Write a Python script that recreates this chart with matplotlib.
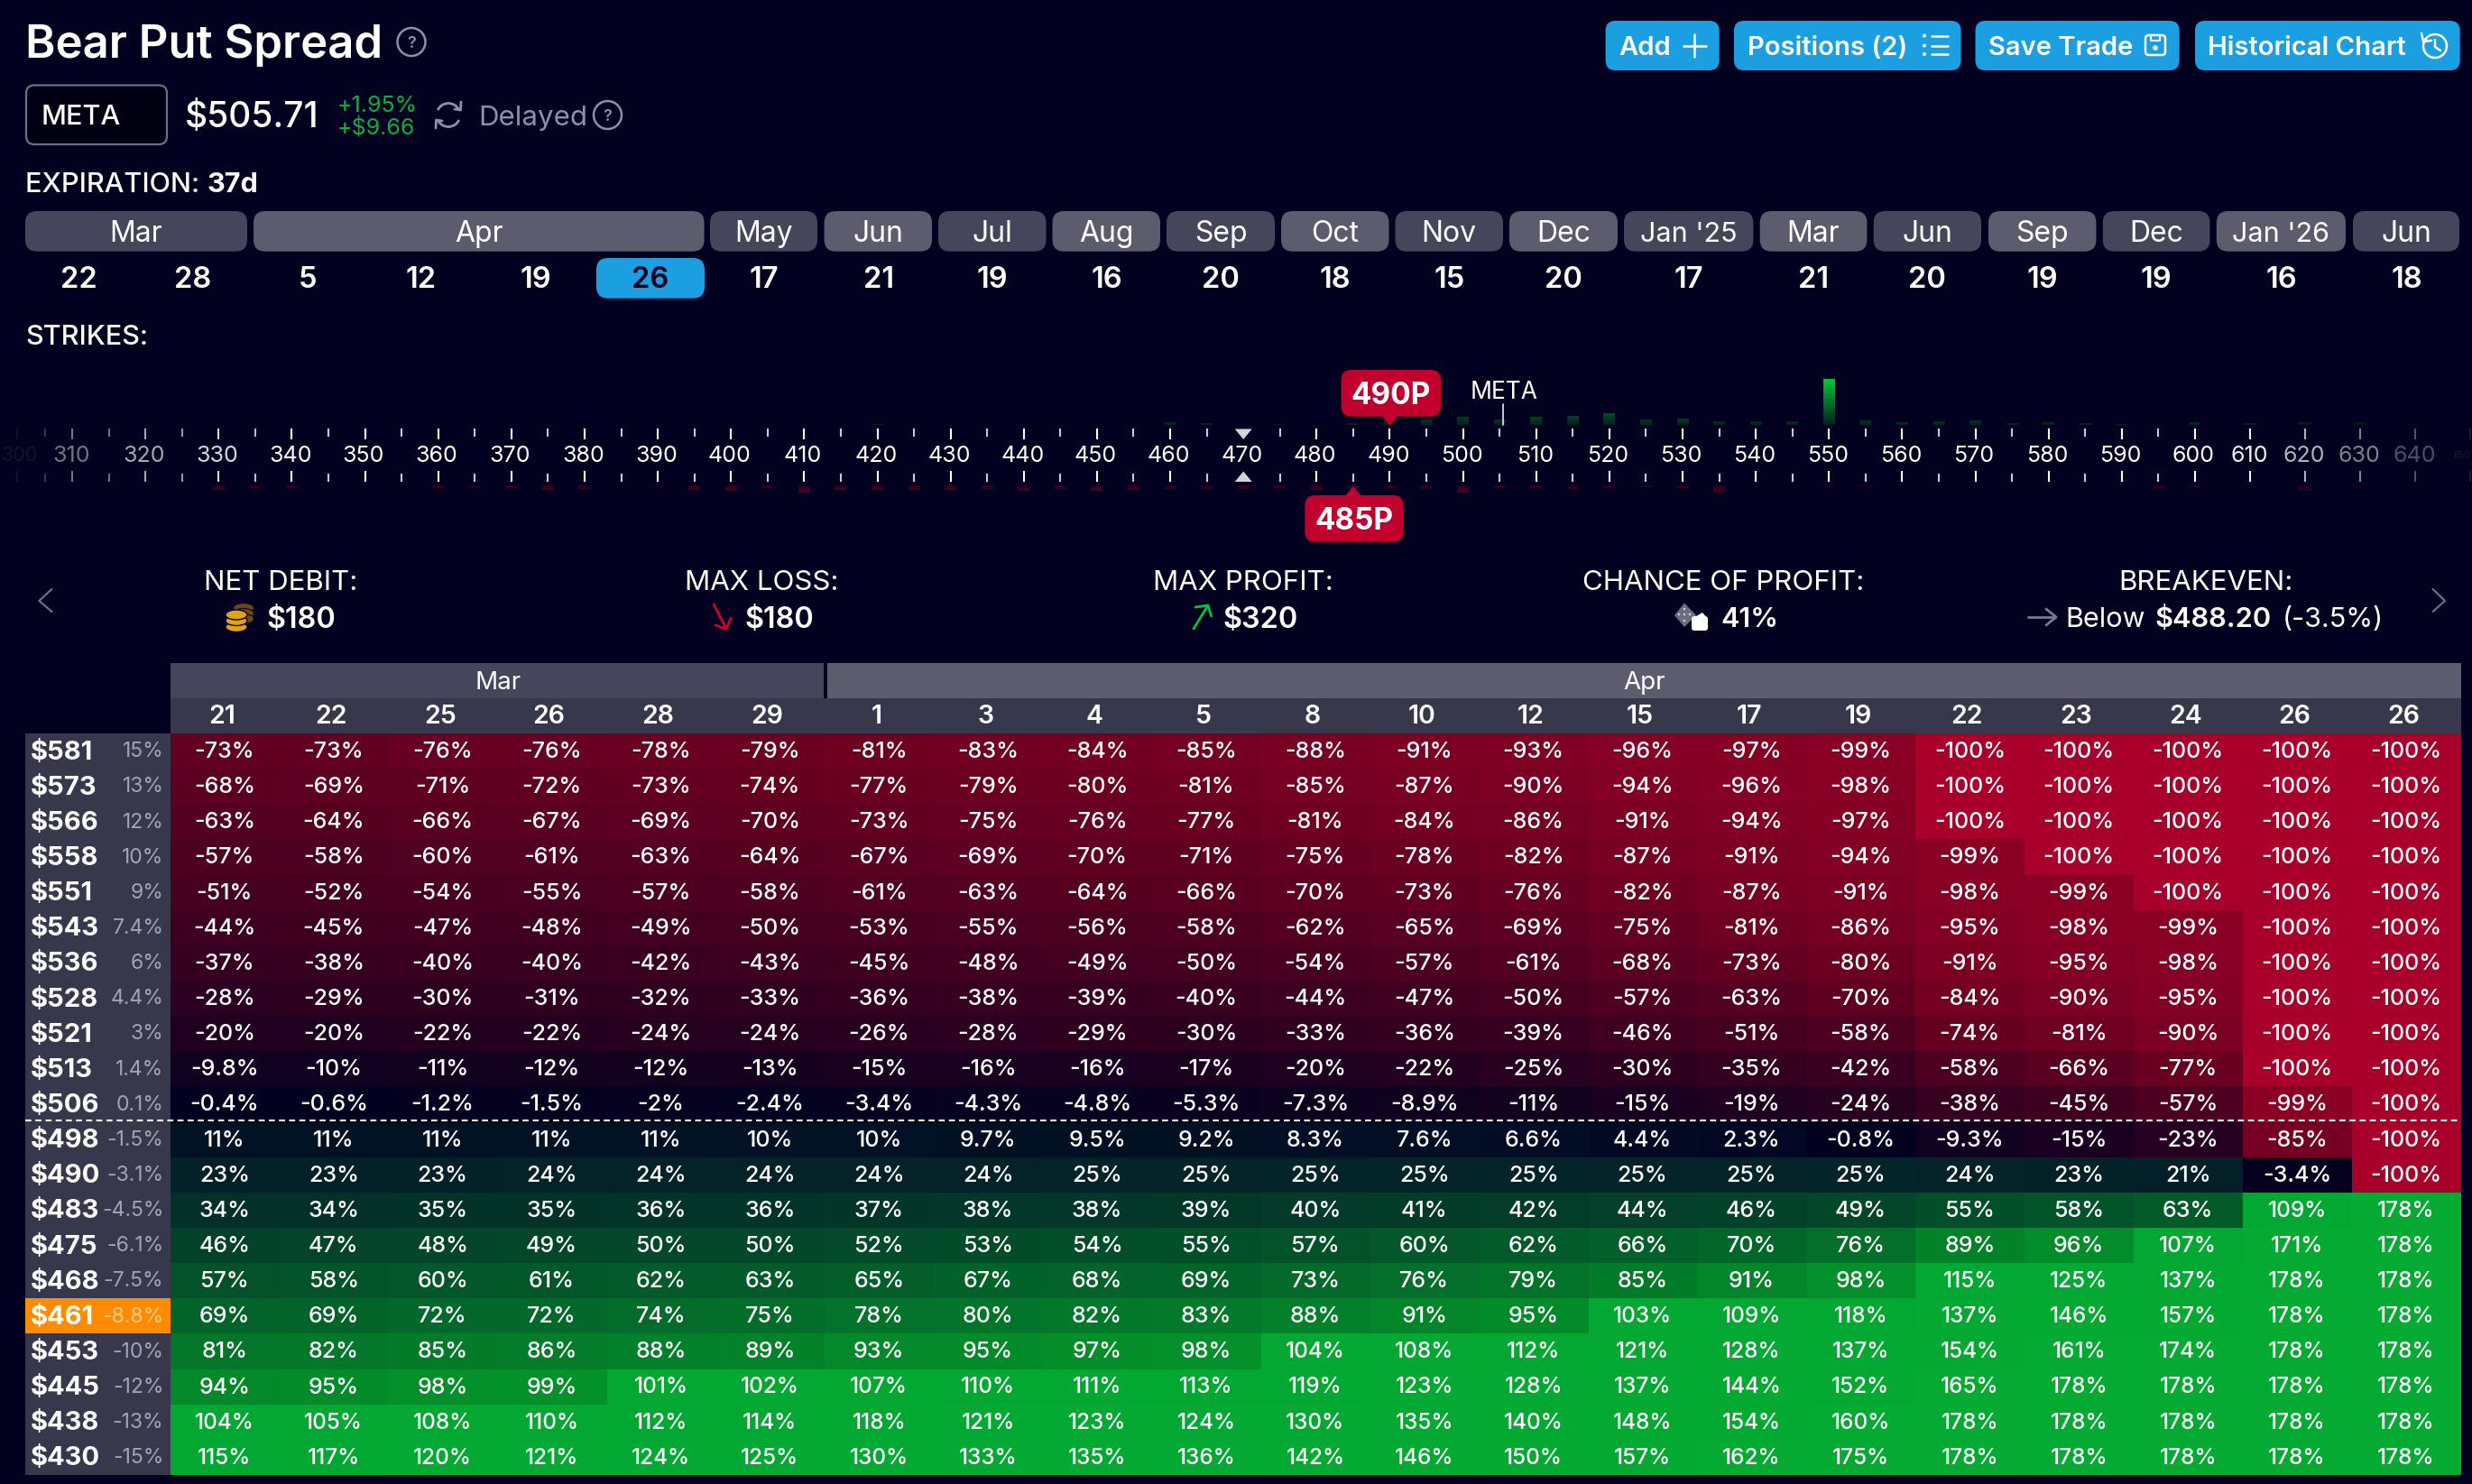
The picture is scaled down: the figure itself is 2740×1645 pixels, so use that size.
import numpy as np
import matplotlib
matplotlib.use("Agg")
import matplotlib.pyplot as plt
from matplotlib.patches import FancyBboxPatch, Rectangle, Polygon, Circle, Arc, Ellipse
from matplotlib.colors import LinearSegmentedColormap, Normalize

plt.rcParams['font.family'] = ['Inter', 'DejaVu Sans']

# ---------- data ----------
days = [21, 22, 25, 26, 28, 29, 1, 3, 4, 5, 8, 10, 12, 15, 17, 19, 22, 23, 24, 26, 26]
mar_columns = 6
prices = [581, 573, 566, 558, 551, 543, 536, 528, 521, 513, 506,
          498, 490, 483, 475, 468, 461, 453, 445, 438, 430]
price_pct = ['15%', '13%', '12%', '10%', '9%', '7.4%', '6%', '4.4%', '3%', '1.4%', '0.1%',
             '-1.5%', '-3.1%', '-4.5%', '-6.1%', '-7.5%', '-8.8%', '-10%', '-12%', '-13%', '-15%']
r581 = [-73, -73, -76, -76, -78, -79, -81, -83, -84, -85, -88, -91, -93, -96, -97, -99, -100, -100, -100, -100, -100]
r573 = [-68, -69, -71, -72, -73, -74, -77, -79, -80, -81, -85, -87, -90, -94, -96, -98, -100, -100, -100, -100, -100]
r566 = [-63, -64, -66, -67, -69, -70, -73, -75, -76, -77, -81, -84, -86, -91, -94, -97, -100, -100, -100, -100, -100]
r558 = [-57, -58, -60, -61, -63, -64, -67, -69, -70, -71, -75, -78, -82, -87, -91, -94, -99, -100, -100, -100, -100]
r551 = [-51, -52, -54, -55, -57, -58, -61, -63, -64, -66, -70, -73, -76, -82, -87, -91, -98, -99, -100, -100, -100]
r543 = [-44, -45, -47, -48, -49, -50, -53, -55, -56, -58, -62, -65, -69, -75, -81, -86, -95, -98, -99, -100, -100]
r536 = [-37, -38, -40, -40, -42, -43, -45, -48, -49, -50, -54, -57, -61, -68, -73, -80, -91, -95, -98, -100, -100]
r528 = [-28, -29, -30, -31, -32, -33, -36, -38, -39, -40, -44, -47, -50, -57, -63, -70, -84, -90, -95, -100, -100]
r521 = [-20, -20, -22, -22, -24, -24, -26, -28, -29, -30, -33, -36, -39, -46, -51, -58, -74, -81, -90, -100, -100]
r513 = [-9.8, -10, -11, -12, -12, -13, -15, -16, -16, -17, -20, -22, -25, -30, -35, -42, -58, -66, -77, -100, -100]
r506 = [-0.4, -0.6, -1.2, -1.5, -2, -2.4, -3.4, -4.3, -4.8, -5.3, -7.3, -8.9, -11, -15, -19, -24, -38, -45, -57, -99, -100]
r498 = [11, 11, 11, 11, 11, 10, 10, 9.7, 9.5, 9.2, 8.3, 7.6, 6.6, 4.4, 2.3, -0.8, -9.3, -15, -23, -85, -100]
r490 = [23, 23, 23, 24, 24, 24, 24, 24, 25, 25, 25, 25, 25, 25, 25, 25, 24, 23, 21, -3.4, -100]
r483 = [34, 34, 35, 35, 36, 36, 37, 38, 38, 39, 40, 41, 42, 44, 46, 49, 55, 58, 63, 109, 178]
r475 = [46, 47, 48, 49, 50, 50, 52, 53, 54, 55, 57, 60, 62, 66, 70, 76, 89, 96, 107, 171, 178]
r468 = [57, 58, 60, 61, 62, 63, 65, 67, 68, 69, 73, 76, 79, 85, 91, 98, 115, 125, 137, 178, 178]
r461 = [69, 69, 72, 72, 74, 75, 78, 80, 82, 83, 88, 91, 95, 103, 109, 118, 137, 146, 157, 178, 178]
r453 = [81, 82, 85, 86, 88, 89, 93, 95, 97, 98, 104, 108, 112, 121, 128, 137, 154, 161, 174, 178, 178]
r445 = [94, 95, 98, 99, 101, 102, 107, 110, 111, 113, 119, 123, 128, 137, 144, 152, 165, 178, 178, 178, 178]
r438 = [104, 105, 108, 110, 112, 114, 118, 121, 123, 124, 130, 135, 140, 148, 154, 160, 178, 178, 178, 178, 178]
r430 = [115, 117, 120, 121, 124, 125, 130, 133, 135, 136, 142, 146, 150, 157, 162, 175, 178, 178, 178, 178, 178]
returns = [r581, r573, r566, r558, r551, r543, r536, r528, r521, r513, r506,
           r498, r490, r483, r475, r468, r461, r453, r445, r438, r430]

exp_months = ['Mar', 'Apr', 'May', 'Jun', 'Jul', 'Aug', 'Sep', 'Oct', 'Nov', 'Dec',
              "Jan '25", 'Mar', 'Jun', 'Sep', 'Dec', "Jan '26", 'Jun']
exp_days = [22, 28, 5, 12, 19, 26, 17, 21, 19, 16, 20, 18, 15, 20, 17, 21, 20, 19, 19, 16, 18]

strikes = list(range(300, 605, 5)) + [610, 620, 630, 640, 650]
call_strikes = [420, 460, 465, 475, 485, 490, 495, 500, 505, 510, 515, 520, 525, 530, 535, 540, 545,
                550, 555, 560, 565, 570, 575, 580, 585, 590, 600, 610, 620, 630, 640]
call_oi = [1, 3, 2.5, 1, 2.5, 6, 6, 9.5, 6, 9.5, 10.5, 13.5, 6, 7.5, 4.3, 3.7, 3.7,
           51.5, 4.7, 3.3, 4.3, 5.3, 1.7, 2.7, 2, 1.3, 3.3, 2.3, 2.7, 3, 1]
put_strikes = [330, 335, 340, 360, 365, 370, 375, 380, 390, 395, 400, 405, 410, 415, 420, 425, 430, 435, 440,
               445, 450, 455, 460, 465, 470, 475, 480, 485, 490, 495, 500, 505, 510, 515, 520, 525, 530, 535,
               550, 555, 595, 600, 620, 630]
put_oi = [4.7, 3, 2.7, 2.7, 1.7, 3.3, 5.3, 3.7, 1.3, 4.7, 6, 3.3, 7.7, 4.7, 4.7, 5, 5.3, 4.3, 6.3,
          3.7, 5.7, 4.7, 4.3, 4.3, 4.3, 2.7, 5, 4.3, 3.3, 4, 8, 3.3, 3, 3.7, 3, 1.7, 3.3, 7.3,
          1.3, 1.3, 3.3, 1.7, 6, 1]
fade_strikes = [300, 310, 320, 330, 340, 600, 610, 620, 630, 640, 650]
fade_alpha = [0.07, 0.45, 0.65, 0.85, 1, 1, 0.95, 0.7, 0.5, 0.3, 0.1]

# ---------- palette ----------
BG = '#02011f'
BLUE = '#1b9fe0'
PILL_D = '#45465c'
PILL_L = '#5c5c6e'
HEAD = '#37384c'
GREY = '#8a92aa'
RED = '#c1002e'
GREEN = '#04b43a'
W = 2740
H = 1645

fig = plt.figure(figsize=(27.4, 16.45), dpi=100, facecolor=BG)
ui = fig.add_axes([0, 0, 1, 1], zorder=5)
ui.set_xlim(0, W)
ui.set_ylim(H, 0)
ui.axis('off')


def axes_px(x0, y0, x1, y1, z):
    a = fig.add_axes([x0 / W, 1 - y1 / H, (x1 - x0) / W, (y1 - y0) / H], zorder=z)
    a.patch.set_alpha(0)
    return a


def T(x, yc, s, size, color='white', ha='left', weight=400, alpha=None, ax=None):
    px = size * 100 / 72
    return (ax or ui).text(x, yc + 0.3636 * px, s, fontsize=size, color=color, ha=ha, va='baseline',
                           fontweight=weight, alpha=alpha, zorder=6)


def box(x0, y0, x1, y1, color, r=10, ec='none', lw=0, z=2):
    p = FancyBboxPatch((x0, y0), x1 - x0, y1 - y0, boxstyle=f'round,pad=0,rounding_size={r}',
                       fc=color, ec=ec, lw=lw, zorder=z)
    ui.add_patch(p)
    return p


def L(xs, ys, color='white', lw=1.6, z=5):
    ui.plot(xs, ys, color=color, lw=lw, zorder=z, solid_capstyle='round', solid_joinstyle='round')


def help_icon(x, y, r=15.5):
    ui.add_patch(Circle((x, y), r, fc='none', ec=GREY, lw=1.8, zorder=5))
    T(x, y, '?', 13, GREY, ha='center', weight=600)


# ---------- header ----------
T(28, 46, 'Bear Put Spread', 36.6, weight=600)
help_icon(456, 46.5)

btn_y = (23, 78)
buttons = [('Add', 1779.6, 1905.6, 1794), ('Positions (2)', 1922, 2173.6, 1937),
           ('Save Trade', 2189.5, 2415.7, 2204), ('Historical Chart', 2433, 2726.7, 2447.5)]
for label, x0, x1, tx in buttons:
    box(x0, btn_y[0], x1, btn_y[1], BLUE, r=11)
    T(tx, 50.5, label, 21, weight=600)
# plus
L([1866, 1891], [50.5, 50.5], lw=1.8)
L([1878.5, 1878.5], [38, 63], lw=1.8)
# list icon
for yy in (39.5, 50.5, 60):
    ui.add_patch(Circle((2133, yy), 2, fc='white', ec='none', zorder=5))
    L([2141, 2159], [yy, yy], lw=1.8)
# floppy
ui.add_patch(FancyBboxPatch((2378, 39), 22, 22, boxstyle='round,pad=0,rounding_size=4', fc='none', ec='white',
                            lw=1.8, zorder=5))
L([2384, 2384, 2394, 2394], [39, 45, 45, 39], lw=1.5)
ui.add_patch(Circle((2389, 53), 2.8, fc='white', ec='none', zorder=5))
# history
ui.add_patch(Arc((2699, 51), 26, 26, theta1=-250, theta2=110, ec='white', lw=1.8, zorder=5))
L([2684, 2686, 2695], [37, 46, 45], lw=1.8)
L([2699, 2699, 2705], [44, 52, 56], lw=1.8)

box(29, 94.5, 185, 160, '#010012', r=9, ec='#6b7086', lw=1.6)
T(46, 127, 'META', 22, weight=500)
T(205, 127, '$505.71', 28, weight=500)
T(374, 115, '+1.95%', 18, GREEN)
T(374, 140.5, '+$9.66', 18, GREEN)
ui.add_patch(Arc((497, 127.5), 26, 26, theta1=205, theta2=335, ec=GREY, lw=2, zorder=5))
ui.add_patch(Arc((497, 127.5), 26, 26, theta1=25, theta2=155, ec=GREY, lw=2, zorder=5))
L([511, 510.5, 504], [113, 122, 121], GREY, 2)
L([483, 483.5, 490], [142, 133, 134], GREY, 2)
T(530, 127.5, 'Delayed', 22.5, GREY)
help_icon(673.5, 127.5)

T(28, 202, 'EXPIRATION: ', 22, weight=500)
T(229.5, 202, '37d', 22, weight=700)

# ---------- expiration strip ----------
month_spans = [(28, 274), (281, 780.6), (787, 906), (913.6, 1033), (1040, 1159.5), (1166.5, 1286), (1293, 1413),
               (1420, 1539.5), (1546.5, 1666), (1673, 1793), (1800, 1943.4), (1950.7, 2069.4), (2076.7, 2196),
               (2204, 2323.5), (2330.8, 2449.5), (2456.8, 2600), (2608, 2726)]
for i, (m, (x0, x1)) in enumerate(zip(exp_months, month_spans)):
    box(x0, 234, x1, 278.7, PILL_L if i % 2 else PILL_D, r=13)
    T((x0 + x1) / 2, 256.5, m, 23 if "'" not in m else 22, ha='center', weight=400)
day_cx = [87, 214, 341, 467, 594, 720.6, 846.5, 974, 1100, 1227, 1353, 1480, 1606.5, 1733, 1871.7, 2010, 2136.3,
          2263.7, 2390, 2528.5, 2667.5]
box(661, 286, 781, 330.7, BLUE, r=13)
for d, x in zip(exp_days, day_cx):
    T(x, 307.5, str(d), 23.5, '#02011f' if x == 720.6 else 'white', ha='center', weight=600)
T(28, 371, 'STRIKES:', 22, weight=500)

# ---------- strike rail ----------
anchor_strike = [250, 310, 600, 700]
anchor_px = [-286, 80, 2433, 3043]


def fwd(v):
    return np.interp(v, anchor_strike, anchor_px)


def inv(p):
    return np.interp(p, anchor_px, anchor_strike)


def fade(s):
    return float(np.interp(s, fade_strikes, fade_alpha))


def rail_axes(y0, y1, z=3):
    a = axes_px(0, y0, W, y1, z)
    a.set_xscale('function', functions=(fwd, inv))
    a.set_xlim(inv(0), inv(W))
    return a


rail = rail_axes(475, 534)
rail.set_ylim(0, 1)
for s in rail.spines.values():
    s.set_visible(False)
rail.set_yticks([])
major = [s for s in strikes if (s % 10 == 0) and s != 470]
minor = [s for s in strikes if s % 10 != 0]
rail.set_xticks(major)
rail.set_xticks(minor, minor=True)
rail.set_xticklabels([])
rail.tick_params(axis='x', which='major', direction='in', top=True, bottom=True, length=8.6, width=1.5,
                 color='white', labelbottom=False)
rail.tick_params(axis='x', which='minor', direction='in', top=True, bottom=True, length=6.5, width=1.5,
                 color='#c9cad2', labelbottom=False)
for tick, s in zip(rail.xaxis.get_major_ticks(), major):
    tick.tick1line.set_alpha(fade(s))
    tick.tick2line.set_alpha(fade(s))
for tick, s in zip(rail.xaxis.get_minor_ticks(), minor):
    tick.tick1line.set_alpha(fade(s))
    tick.tick2line.set_alpha(fade(s))
for s in strikes:
    if s % 10 == 0:
        if s == strikes[0]:
            # the rail's faded ends: kept inside the canvas
            rail.text(inv(2), 0.49, str(s), color='white', alpha=fade(s), fontsize=15.5, ha='left', va='center')
        elif s == strikes[-1]:
            rail.text(inv(2738), 0.49, str(s), color='white', alpha=fade(s), fontsize=7, ha='right', va='center')
        else:
            rail.text(s - 0.2, 0.49, str(s), color='white', alpha=fade(s), fontsize=18, ha='center', va='center')

cx470 = float(fwd(470))
ui.add_patch(Polygon([(cx470 - 9.5, 475.5), (cx470 + 9.5, 475.5), (cx470, 487)], fc='#d4d5dc', ec='none', zorder=5))
ui.add_patch(Polygon([(cx470 - 9.5, 534), (cx470 + 9.5, 534), (cx470, 522.5)], fc='#d4d5dc', ec='none', zorder=5))


def lerp(c0, c1, t):
    t = min(max(t, 0), 1)
    return tuple((a + (b - a) * t) / 255 for a, b in zip(c0, c1))


def gradient_bars(a, xs, hs, c0, c1, span):
    xs = np.array(xs, float)
    hs = np.array(hs, float)
    widths = np.where(xs > 600, 2.2, 1.6)
    alphas = np.array([fade(s) for s in xs])
    for lev in np.arange(0, hs.max(), 1.0):
        part = np.clip(hs - lev, 0, 1)
        keep = part > 0
        a.bar(xs[keep], part[keep], bottom=lev, width=widths[keep], color=lerp(c0, c1, (lev + 0.5) / span),
              linewidth=0, antialiased=False)
    for x, h, w, al in zip(xs, hs, widths, alphas):
        if al < 1:
            a.bar([x], [h], bottom=0, width=w, color=BG, alpha=1 - al, linewidth=0)


calls = rail_axes(415, 471)
calls.set_ylim(0, 56)
calls.axis('off')
gradient_bars(calls, call_strikes, call_oi, (2, 32, 30), (0, 205, 52), 52)
puts = rail_axes(538, 570)
puts.set_ylim(32, 0)
puts.axis('off')
gradient_bars(puts, put_strikes, put_oi, (38, 0, 30), (88, 0, 36), 9)


def tag(x0, x1, y0, y1, tip, label):
    box(x0, y0, x1, y1, RED, r=11, z=7)
    cx = float(fwd(tip[0]))
    base = y1 - 1 if tip[1] > y1 else y0 + 1
    ui.add_patch(Polygon([(cx - 9, base), (cx + 9, base), (cx, tip[1])], fc=RED, ec='none', zorder=7))
    t_ = T((x0 + x1) / 2, (y0 + y1) / 2, label, 24, ha='center', weight=700)
    t_.set_zorder(8)


tag(1486.6, 1597, 410, 461.7, (490, 472), '490P')
tag(1446.4, 1555.5, 549, 600.7, (485, 539), '485P')
T(1667.5, 432, 'META', 19, ha='center')
L([1666.5, 1666.5], [448, 471], '#d8d8de', 1.3)

# ---------- summary ----------
for x, s in [(311.5, 'NET DEBIT:'), (844, 'MAX LOSS:'), (1378, 'MAX PROFIT:'), (1910, 'CHANCE OF PROFIT:'),
             (2444.5, 'BREAKEVEN:')]:
    T(x, 643, s, 22.5, ha='center')
T(295, 684, '$180', 23.3, weight=600)
T(825, 684, '$180', 23.3, weight=600)
T(1355, 684, '$320', 23.3, weight=600)
T(1907, 684, '41%', 22, weight=600)
T(2289.5, 684, 'Below', 22)
T(2388.5, 684, '$488.20', 22.2, weight=600)
T(2529.5, 684, '(-3.5%)', 22)

L([57.4, 43.4, 57.4], [653, 666, 678], '#6b6f80', 1.6)
L([2696.6, 2710, 2696.6], [653, 666, 678], '#6b6f80', 1.6)
# coins
for yy in (674, 680, 686):
    ui.add_patch(Ellipse((270, yy), 23, 11, fc='#6b4a12', ec=BG, lw=0.8, zorder=4))
for yy in (695, 688, 681.5):
    ui.add_patch(Ellipse((262, yy), 24, 11, fc='#e3a213', ec=BG, lw=1.0, zorder=5))
# arrows
L([791, 805], [670, 697], '#d0002e', 2)
L([793, 805, 810], [693, 697, 685], '#d0002e', 2)
L([1323, 1339], [697, 671], '#04c23e', 2)
L([1325, 1339, 1342.5], [673, 671, 683], '#04c23e', 2)
L([2248, 2278], [684, 684], '#7b7b8c', 2)
L([2268, 2279, 2268], [675, 684, 693], '#7b7b8c', 2)
# dice
ui.add_patch(Polygon([(1867, 668.5), (1880, 682), (1867, 695), (1856, 682)], fc='#6d6d80', ec='none', zorder=4))
ui.add_patch(FancyBboxPatch((1875, 683), 18, 16, boxstyle='round,pad=0,rounding_size=3', fc='white', ec='none',
                            zorder=5))
ui.add_patch(Polygon([(1875, 686), (1887, 679), (1893, 686)], fc='white', ec='none', zorder=5))
for dx, dy in [(1867, 675), (1861, 681), (1867, 681), (1873, 681), (1867, 688)]:
    ui.add_patch(Circle((dx, dy), 1.2, fc='#d8d8de', ec='none', zorder=5))

# ---------- table ----------
TX0, TX1, TY0, TY1 = 189, 2728, 813, 1635
vals = np.array(returns, float)
nrow, ncol = vals.shape
nodes = [(-100, (168, 0, 42)), (-99.6, (138, 0, 36)), (-60, (80, 0, 32)), (-25, (40, 0, 32)), (-0.1, (2, 1, 32)),
         (0.1, (2, 4, 34)), (25, (3, 36, 40)), (50, (3, 72, 42)), (99.9, (3, 146, 42)), (100, (3, 168, 50)),
         (178, (4, 170, 50))]
vmin, vmax = -100, 178
cmap = LinearSegmentedColormap.from_list(
    'pl', [((v - vmin) / (vmax - vmin), tuple(c / 255 for c in col)) for v, col in nodes], N=4096)
ax = axes_px(TX0, TY0, TX1, TY1, 2)
ax.pcolormesh(np.arange(ncol + 1), np.arange(nrow + 1), vals, cmap=cmap, norm=Normalize(vmin, vmax),
              edgecolors='none', antialiased=False)
ax.set_xlim(0, ncol)
ax.set_ylim(nrow, 0)
ax.axis('off')
cw = (TX1 - TX0) / ncol
rh = (TY1 - TY0) / nrow
for r in range(nrow):
    for c in range(ncol):
        v = vals[r, c]
        size = 17.5 if v >= 100 else 18
        off = (0.3636 * size * 100 / 72 - 1.6) / rh
        ax.text(c + 0.495, r + 0.5 + off, f'{v:g}%', color='white', fontsize=size, ha='center', va='baseline',
                fontweight=500)

split = TX0 + mar_columns * cw
ui.add_patch(Rectangle((TX0, 735), split - 1 - TX0, 39, fc=PILL_D, ec='none', zorder=2))
ui.add_patch(Rectangle((split + 3, 735), TX1 - split - 3, 39, fc=PILL_L, ec='none', zorder=2))
ui.add_patch(Rectangle((TX0, 774), TX1 - TX0, 39, fc=HEAD, ec='none', zorder=2))
T((TX0 + split) / 2, 753.5, 'Mar', 20, ha='center')
T((split + TX1) / 2 + 1, 753.5, 'Apr', 20, ha='center')
for c, d in enumerate(days):
    T(TX0 + (c + 0.5) * cw - 3.5, 792, str(d), 20.5, ha='center', weight=600)
ui.add_patch(Rectangle((28, TY0), TX0 - 28, TY1 - TY0, fc=HEAD, ec='none', zorder=2))
for r, (p, q) in enumerate(zip(prices, price_pct)):
    yc = TY0 + (r + 0.5) * rh - 1.6
    hot = p == 461
    if hot:
        ui.add_patch(Rectangle((28, TY0 + r * rh), TX0 - 28, rh, fc='#ff8c00', ec='none', zorder=3))
    T(34, yc, f'${p}', 21, weight=700)
    T(181.5, yc, q, 16.5, '#ffc987' if hot else '#a3a4b2', ha='right')
ui.plot([28, TX1], [TY0 + 11 * rh - 1.5] * 2, color='white', lw=1.5, ls=(0, (3.2, 2.2)), zorder=8)

fig.savefig('out.png', dpi=100, facecolor=BG)
